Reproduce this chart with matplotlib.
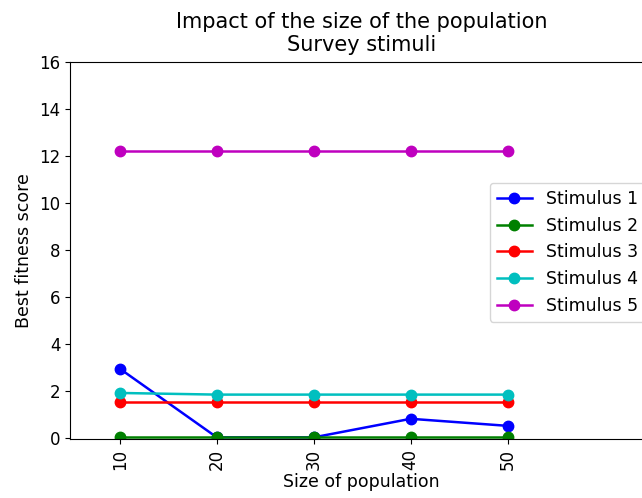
import matplotlib
matplotlib.use("Agg")
import matplotlib.pyplot as plt

''' Data
'''
sizes = [10, 20, 30, 40, 50]
stim1 = [2.94, 0.02, 0.02, 0.81, 0.51]
stim2 = [0.05, 0.05, 0.05, 0.05, 0.05]
stim3 = [1.53, 1.53, 1.53, 1.53, 1.53]
stim4 = [1.91, 1.84, 1.84, 1.84, 1.84]
stim5 = [12.21, 12.21, 12.21, 12.21, 12.21]
labels = ["Stimulus 1", "Stimulus 2", "Stimulus 3", "Stimulus 4", "Stimulus 5"]
colors = ["b", "g", "r", "c", "m"]

''' Plot
'''
fig = plt.figure(figsize=(6.42, 4.98), dpi=100)
ax = fig.add_axes([70 / 642, 1 - 439 / 498, 583 / 642, 377 / 498])

for vals, lab, col in zip([stim1, stim2, stim3, stim4, stim5], labels, colors):
    ax.plot(sizes, vals, "-o", color=col, label=lab, lw=1.8, ms=7.5)

ax.set_xlim(4.85, 65)
ax.set_ylim(-0.05, 16)
ax.set_xticks(sizes)
ax.set_xticklabels([str(s) for s in sizes], rotation=90, fontsize=12)
ax.tick_params(axis="y", labelsize=12)
ax.set_xlabel("Size of population", fontsize=12.5, labelpad=2)
ax.set_ylabel("Best fitness score", fontsize=12.5)
ax.set_title("Impact of the size of the population\nSurvey stimuli", fontsize=15, pad=8)

ax.legend(loc="upper left", bbox_to_anchor=(490 / 642, 1 - 183 / 498),
          bbox_transform=fig.transFigure, borderaxespad=0, fontsize=12.5)

fig.savefig("out.png", dpi=100)
